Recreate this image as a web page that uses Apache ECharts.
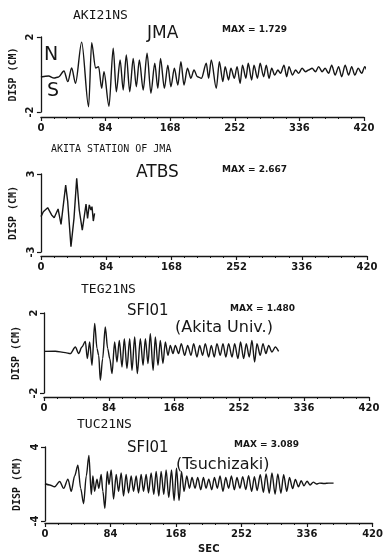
<!DOCTYPE html>
<html>
<head>
<meta charset="utf-8">
<script src="https://cdn.jsdelivr.net/npm/echarts@6/dist/echarts.min.js"></script>
<style>
  html, body { margin: 0; padding: 0; background: #fff; }
  #chart { width: 386px; height: 555px; }
</style>
</head>
<body>
<div id="chart"></div>
<script>
// x ticks (sec) shared by all panels
const secTicks = [0, 84, 168, 252, 336, 420];

// AKI21NS  JMA  [sec, cm]
const akiWave = [
  [0,-0.13],[10,-0.08],[17,-0.19],[23,-0.13],[30,0.19],[35,-0.38],[40,0.35],[45,-0.47],[53,1.729],[62,-1.72],
  [66,1.70],[71,0.35],[75,0.42],[79,-0.74],[82,0.15],[88.5,-1.70],[94,1.4],[98,-0.92],[103,0.77],[107,-0.83],
  [111,1.04],[115.5,-0.92],[120,0.86],[124,-0.65],[128,0.77],[133,-0.83],[138,1.13],[143,-1.0],[148,0.6],[152,-0.74],
  [155.5,0.86],[160.5,-0.74],[165,0.5],[169,-0.65],[173.5,0.33],[178,-0.56],[182,0.68],[186,-0.56],[190.5,0.33],[195,-0.2],
  [199,0.24],[203.5,-0.12],[208.7,-0.2],[215,0.6],[218,-0.2],[221.5,0.77],[228,-0.74],[232,0.68],[236.5,-0.38],[239.5,0.42],
  [244,-0.29],[247,0.33],[251.5,-0.2],[255,0.42],[259,-0.47],[262,0.5],[266.5,-0.2],[269.5,0.6],[274,-0.29],[277,0.5],
  [281.5,-0.2],[285,0.6],[289.5,-0.12],[293,0.5],[296.5,-0.2],[300,0.33],[304,-0.03],[308,0.24],[311.5,0.06],[316,0.5],
  [319.5,-0.12],[322.5,0.42],[327,-0.03],[331,0.24],[335,0.06],[339.5,0.33],[344,0.15],[348,0.24],[352.5,0.33],[357,0.15],
  [361,0.42],[365.5,0.15],[369.5,0.33],[374,0.06],[378,0.5],[382.5,-0.03],[387,0.42],[391,-0.12],[395.5,0.5],[400,-0.03],
  [404,0.42],[408,-0.03],[412.5,0.33],[417,0.06],[421,0.42],[425,0.15],[430,0.3],[435,0.2],[440,0.25]
];

// ATBS  Akita station of JMA
const atbsWave = [
  [0,-0.28],[3,0.1],[8.6,0.41],[13.7,-0.15],[17,-0.36],[22,0.31],[25.8,-0.87],[31.8,2.15],[34.4,0.87],[38.6,-2.59],
  [42.5,-0.41],[46,2.667],[49.3,0.23],[53.2,-1.31],[58,0.69],[60,-0.41],[62.2,0.62],[64.4,0.23],[65.7,0.49],[67.4,-0.62],
  [69,-0.03]
];

// TEG21NS  SFI01 (Akita Univ.)
const tegWave = [
  [0,0.08],[14.6,0.09],[27.5,0.02],[34,-0.03],[40.5,0.3],[44.8,-0.03],[49,0.3],[53.4,0.58],[56,-0.28],[59,0.55],
  [62,-0.62],[65.5,1.48],[68.5,0.22],[70.7,-0.12],[72.8,-1.37],[75.8,-0.28],[79.2,1.3],[82.3,0.22],[85,-0.28],[87.9,-1.03],
  [91.3,0.55],[94.3,-0.45],[97.3,0.63],[100.8,-0.7],[103.8,0.72],[107.2,-0.78],[110.7,0.72],[113.7,-0.87],[117.2,0.8],[120.6,-1.03],
  [124.5,0.72],[128,-0.62],[131,0.72],[134.4,-0.53],[137.4,0.97],[141,-0.87],[143.9,0.8],[147.3,-0.62],[150.3,0.63],[153.7,-0.53],
  [156.8,0.55],[160.2,-0.12],[163.2,0.38],[166.7,-0.03],[169.7,0.38],[174,-0.03],[177.4,0.47],[181.8,-0.12],[185.6,0.38],[190,-0.12],
  [193.4,0.47],[197.7,-0.2],[201.2,0.38],[205,-0.12],[208.4,0.47],[212.8,-0.2],[216.2,0.38],[220,-0.2],[223.5,0.47],[227.8,-0.12],
  [231.3,0.47],[235,-0.2],[238.6,0.47],[243,-0.2],[246.4,0.47],[250.6,-0.28],[254,0.55],[258,-0.28],[261.4,0.47],[265.3,-0.2],
  [268.7,0.63],[272.2,-0.45],[275.2,0.47],[279.5,-0.12],[283,0.47],[286.8,-0.03],[290.3,0.38],[294.6,0.05],[298.9,0.3],[303.2,0.08]
];

// TUC21NS  SFI01 (Tsuchizaki)
const tucWave = [
  [0,0.03],[6,-0.1],[12.4,-0.3],[18.8,0.27],[24,-0.47],[29.4,0.53],[33.7,-0.8],[38,0.87],[42.2,2.03],[45.7,-0.47],
  [49.5,-2.13],[52.9,0.87],[56.3,3.089],[59.3,-1.13],[61.4,0.87],[63.6,-0.8],[66.6,0.53],[69,-0.47],[72,1.03],[74.2,-0.8],
  [76.8,-2.63],[79.8,1.37],[82,-0.07],[84.9,1.53],[87.9,-1.63],[91.3,1.03],[94.3,-0.8],[97.7,1.2],[100.7,-1.3],[104,1.03],
  [107.1,-0.97],[110.5,0.87],[113.5,-0.8],[116.9,0.87],[119.9,-0.97],[123.3,1.03],[126.3,-0.8],[129.7,1.03],[132.7,-0.97],[136.1,1.2],
  [139.5,-1.13],[142.5,1.37],[145.9,-1.3],[148.9,1.37],[152.3,-1.13],[155.3,1.53],[158.7,-1.47],[162.2,1.53],[165.5,-1.8],[168.6,1.7],
  [171.9,-1.8],[175,1.37],[178.3,-0.8],[181.8,0.87],[185.2,-0.47],[188.5,0.7],[192.4,-0.47],[195.8,0.7],[199.7,-0.63],[203.1,0.7],
  [206.5,-0.47],[210,0.53],[213.8,-0.63],[217.2,0.7],[221,-0.47],[224.4,0.87],[228.2,-0.8],[231.7,0.7],[235.5,-0.47],[239,0.87],
  [242.8,-0.63],[246.1,0.7],[250,-0.47],[253.5,0.8],[257.5,-0.6],[261,0.9],[265,-0.8],[268.5,0.8],[272,-0.7],[276,1.0],
  [280,-0.9],[283.5,1.1],[287.5,-1.0],[291,1.2],[295,-1.1],[298.5,1.1],[302.5,-1.0],[306,1.0],[310,-0.8],[313.5,0.7],
  [317.5,-0.5],[321,0.5],[325,-0.3],[328.5,0.35],[332,-0.2],[336,0.3],[340,-0.1],[344,0.2],[348,0],[352,0.1],
  [358,0.05],[364,0.1],[370,0.1]
];

const ink = '#161616';
const monoFont = '"DejaVu Sans Mono", "Liberation Mono", monospace';
const handFont = '"DejaVu Sans", sans-serif';

// panel boxes: [left, top, width, height, xAxisOffset, yRange]
const panels = [
  [38, 37, 326, 75, 5, 2],
  [41, 174, 326, 78, 4, 3],
  [44, 313, 325, 80, 4, 2],
  [45, 447, 328, 80, 2, 4]
];
const waves = [akiWave, atbsWave, tegWave, tucWave];

const chart = echarts.init(document.getElementById('chart'), null, {renderer: 'canvas'});

const grids = panels.map(p => ({left: p[0], top: p[1], width: p[2], height: p[3]}));

const xAxes = panels.map((p, i) => ({
  type: 'value',
  gridIndex: i,
  position: 'bottom',
  min: 0,
  max: 420,
  interval: 84,
  offset: p[4],
  axisLine: {onZero: false, lineStyle: {color: ink, width: 1.3}},
  axisTick: {show: true, length: 4, inside: false, lineStyle: {color: ink, width: 1.2}},
  minorTick: {show: true, splitNumber: 5, length: 2, lineStyle: {color: ink, width: 1}},
  splitLine: {show: false},
  axisLabel: {
    color: ink, fontSize: 10, fontWeight: 'bold',
    fontFamily: '"DejaVu Sans", sans-serif', margin: 6,
    customValues: secTicks
  },
  name: i === 3 ? 'SEC' : '',
  nameLocation: 'middle',
  nameGap: 21,
  nameTextStyle: {color: ink, fontSize: 10, fontWeight: 'bold', fontFamily: '"DejaVu Sans", sans-serif'}
}));

const yAxes = panels.map((p, i) => ({
  type: 'value',
  gridIndex: i,
  min: -p[5],
  max: p[5],
  axisLine: {show: true, onZero: false, lineStyle: {color: ink, width: 1.3}},
  axisTick: {show: true, length: 4, lineStyle: {color: ink, width: 1.2}, customValues: [-p[5], p[5]]},
  splitLine: {show: false},
  axisLabel: {
    color: ink, fontSize: 10, fontWeight: 'bold', rotate: 90, margin: 5,
    fontFamily: '"DejaVu Sans", sans-serif',
    customValues: [-p[5], p[5]]
  },
  name: 'DISP (CM)',
  nameLocation: 'middle',
  nameRotate: 90,
  nameGap: 17,
  nameTextStyle: {color: ink, fontSize: 10, fontWeight: 'bold', fontFamily: monoFont}
}));

const series = waves.map((w, i) => ({
  type: 'line',
  xAxisIndex: i,
  yAxisIndex: i,
  data: w,
  showSymbol: false,
  smooth: i === 1 ? false : 0.3,
  smoothMonotone: 'x',
  clip: false,
  lineStyle: {color: ink, width: 1.4},
  silent: true,
  animation: false
}));

function txt(x, y, text, font) {
  return {type: 'text', x: x, y: y, silent: true, style: {text: text, font: font, fill: ink}};
}

const labels = [
  txt(73, 9, 'AKI21NS', '13px ' + monoFont),
  txt(147, 25, 'JMA', '17px ' + handFont),
  txt(222, 25, 'MAX = 1.729', 'bold 9px ' + handFont),
  txt(44, 46, 'N', '19px ' + handFont),
  txt(47, 82, 'S', '19px ' + handFont),

  txt(51, 144, 'AKITA STATION OF JMA', '10px ' + monoFont),
  txt(136, 164, 'ATBS', '17px ' + handFont),
  txt(222, 165, 'MAX = 2.667', 'bold 9px ' + handFont),

  txt(81, 283, 'TEG21NS', '13px ' + monoFont),
  txt(127, 304, 'SFI01', '15px ' + handFont),
  txt(230, 304, 'MAX = 1.480', 'bold 9px ' + handFont),
  txt(175, 320, '(Akita Univ.)', '16px ' + handFont),

  txt(77, 418, 'TUC21NS', '13px ' + monoFont),
  txt(127, 441, 'SFI01', '15px ' + handFont),
  txt(234, 440, 'MAX = 3.089', 'bold 9px ' + handFont),
  txt(176, 457, '(Tsuchizaki)', '16px ' + handFont)
];

chart.setOption({
  backgroundColor: '#fff',
  animation: false,
  grid: grids,
  xAxis: xAxes,
  yAxis: yAxes,
  series: series,
  graphic: labels
});
</script>
</body>
</html>
